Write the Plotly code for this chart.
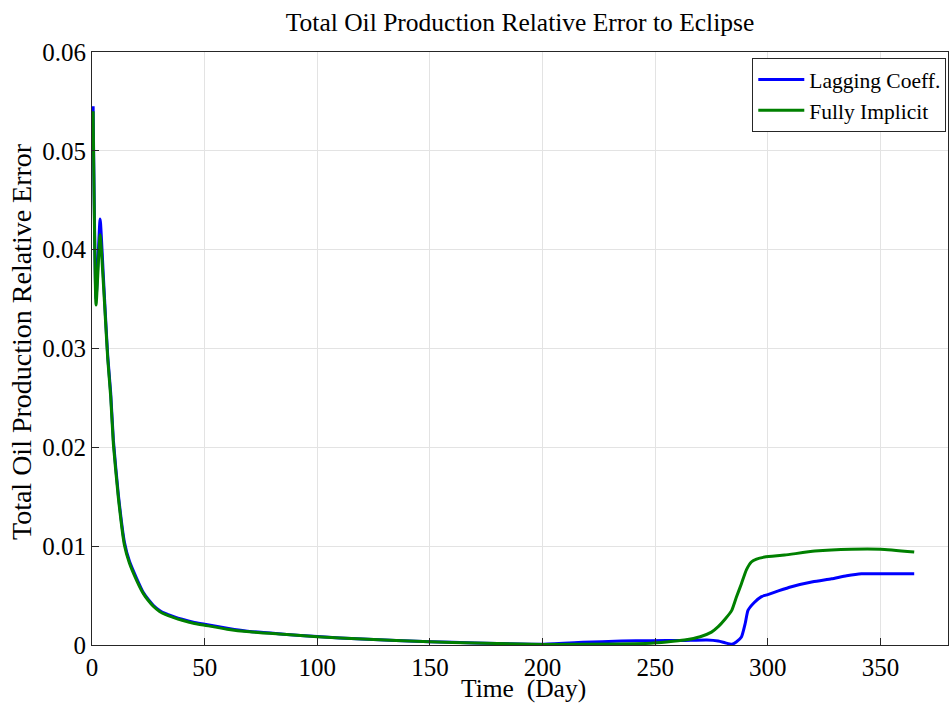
import plotly.graph_objects as go

# Lagging coefficient solution: time (days) and relative error
lag_t = [0.5, 1.8, 3.6, 5.0, 6.0, 7.0, 8.3, 9.5, 11.7, 14.4, 16.6, 19.9, 22.8, 25.0, 27.3,
         30.0, 32.5, 36, 40, 45, 50, 60, 70, 85, 100, 120, 150, 170, 190, 200, 218, 235,
         248, 262, 273, 278, 281, 284, 286, 288.3, 290, 291.2, 294, 297.2, 300, 305, 310.5,
         320, 328.3, 335, 341.6, 350, 365]
lag_err = [0.0545, 0.0350, 0.0431, 0.0375, 0.0332, 0.0292, 0.0255, 0.0207, 0.0152, 0.0104,
           0.0085, 0.0067, 0.0053, 0.0046, 0.0040, 0.0035, 0.0032, 0.0029, 0.0026, 0.0023,
           0.0021, 0.0017, 0.00137, 0.0011, 0.00085, 0.0006, 0.00034, 0.0002, 0.0001,
           0.00008, 0.00027, 0.0004, 0.00044, 0.00045, 0.0005, 0.0004, 0.00023, 0.00007,
           0.0003, 0.0008, 0.0022, 0.0035, 0.0043, 0.0049, 0.0051, 0.0055, 0.0059, 0.0064,
           0.0067, 0.0070, 0.0072, 0.0072, 0.0072]

# Fully implicit solution
imp_t = [0.5, 1.8, 3.6, 5.0, 6.0, 7.0, 8.3, 9.5, 11.7, 14.4, 16.6, 19.9, 22.8, 25.0, 27.3,
         30.0, 32.5, 36, 40, 45, 50, 60, 70, 85, 100, 120, 150, 170, 190, 200, 233, 248,
         255, 263, 270, 275, 278, 281, 284, 286, 288.3, 290.5, 292.7, 295, 298.6, 307.5,
         320.9, 337, 350, 365]
imp_err = [0.0540, 0.0344, 0.0415, 0.0368, 0.0328, 0.0289, 0.0251, 0.0203, 0.0149, 0.0101,
           0.0083, 0.0065, 0.0052, 0.0045, 0.0039, 0.0034, 0.0031, 0.0028, 0.0025, 0.0022,
           0.0020, 0.0016, 0.00133, 0.00108, 0.00083, 0.0006, 0.00033, 0.0002, 0.0001,
           0.00005, 0.0001, 0.00017, 0.0003, 0.0005, 0.00084, 0.0013, 0.00185, 0.0026,
           0.0035, 0.0048, 0.0062, 0.0076, 0.0084, 0.0087, 0.0089, 0.0091, 0.0095, 0.0097,
           0.0097, 0.0094]

x_ticks = [0, 50, 100, 150, 200, 250, 300, 350]
y_ticks = [0, 0.01, 0.02, 0.03, 0.04, 0.05, 0.06]
y_tick_text = ["0", "0.01", "0.02", "0.03", "0.04", "0.05", "0.06"]

FONT = "Liberation Serif, Times New Roman, serif"
W, H = 951, 704
ML, MR, MT, MB = 92, 3, 52, 59
PW, PH = W - ML - MR, H - MT - MB

fig = go.Figure()
fig.add_trace(go.Scatter(x=lag_t, y=lag_err, mode="lines", name="Lagging Coeff.",
                         line=dict(color="#0000ff", width=3, shape="spline", smoothing=0.5)))
fig.add_trace(go.Scatter(x=imp_t, y=imp_err, mode="lines", name="Fully Implicit",
                         line=dict(color="#008000", width=3, shape="spline", smoothing=0.5)))

axis_common = dict(
    showline=True, linecolor="#262626", linewidth=1, mirror=True,
    ticks="inside", ticklen=7, tickcolor="#262626", tickwidth=1,
    showgrid=True, gridcolor="#e3e3e3", gridwidth=1, zeroline=False,
    tickfont=dict(family=FONT, size=25, color="#000000"),
)

fig.update_layout(
    width=W, height=H,
    margin=dict(l=ML, r=MR, t=MT, b=MB),
    paper_bgcolor="white", plot_bgcolor="white",
    title=dict(text="Total Oil Production Relative Error to Eclipse",
               x=0.5, xref="paper", xanchor="center",
               y=1 - 22 / H, yref="container", yanchor="middle",
               font=dict(family=FONT, size=25.5, color="#000000")),
    xaxis=dict(range=[0, 380], tickvals=x_ticks, ticklabelstandoff=0, **axis_common),
    yaxis=dict(range=[0, 0.06], tickvals=y_ticks, ticktext=y_tick_text, **axis_common),
    legend=dict(x=0.998, y=0.99, xanchor="right", yanchor="top",
                bgcolor="white", bordercolor="#262626", borderwidth=1,
                font=dict(family=FONT, size=21.5, color="#000000"),
                tracegroupgap=0, itemwidth=46),
    showlegend=True,
)

# Axis titles placed as annotations so they sit clear of the tick labels
fig.add_annotation(text="Time  (Day)", xref="paper", yref="paper",
                   x=(523 - ML) / PW, y=-(H - (MT + PH)) / PH,
                   xanchor="center", yanchor="bottom", showarrow=False, borderpad=0,
                   font=dict(family=FONT, size=25.5, color="#000000"))
fig.add_annotation(text="Total Oil Production Relative Error", xref="paper", yref="paper",
                   x=(21 - ML) / PW, y=((MT + PH) - 342) / PH, textangle=-90,
                   xanchor="center", yanchor="middle", showarrow=False,
                   font=dict(family=FONT, size=28, color="#000000"))

fig.write_html("out.html")
